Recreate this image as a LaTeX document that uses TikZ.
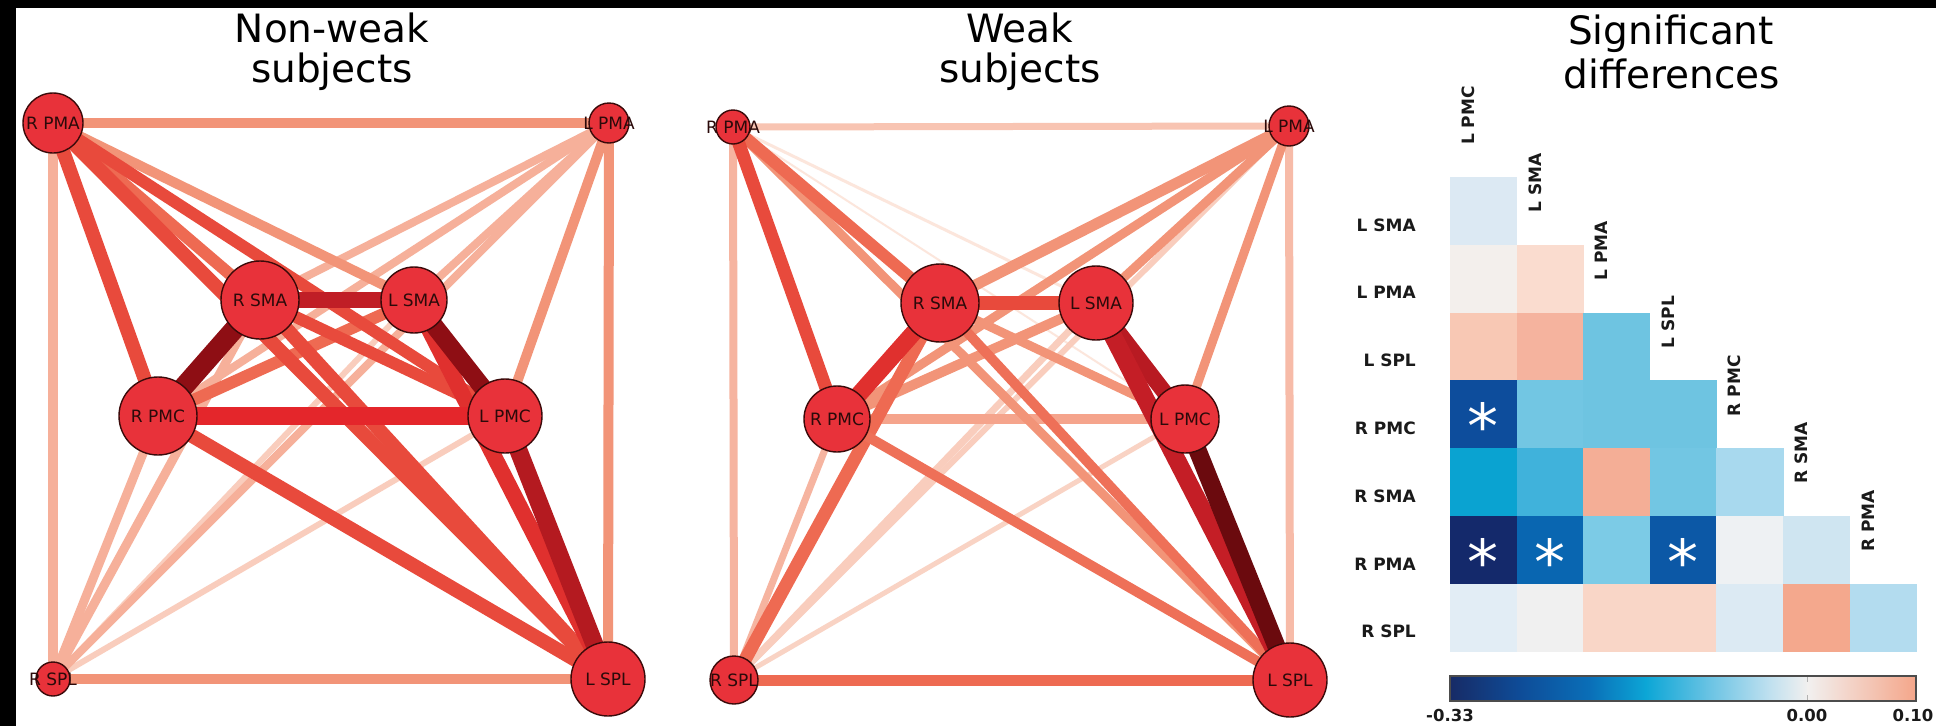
\documentclass[tikz,border=0pt]{standalone}
\usepackage{fontspec}
\setmainfont{DejaVu Sans}
\pgfdeclarelayer{bglayer}
\pgfdeclarelayer{edgelayer}
\pgfsetlayers{bglayer,edgelayer,main}
\definecolor{nodered}{HTML}{E8323A}
\definecolor{nodeedge}{HTML}{3A0A0A}
\definecolor{lbltext}{HTML}{2B0A0A}
\definecolor{hmtext}{HTML}{1A1A1A}
\newcommand\netnode[5]{\node[netnode, minimum size=#4pt, label={[nodelbl]center:#5}] (#1) at (#2,#3) {};}
\newcommand\nedge[4]{\definecolor{edgetmp}{HTML}{#3}\draw[edgetmp, line width=#4pt] (#1.center) -- (#2.center);}
\newcommand\hmcell[3]{\definecolor{celltmp}{HTML}{#3}\fill[celltmp] ({1450+#1*66.6},{177+#2*67.8}) rectangle ++(67.1,68.3);}
\newcommand\cbseg[4]{\definecolor{cbA}{HTML}{#3}\definecolor{cbB}{HTML}{#4}\shade[left color=cbA, right color=cbB] (#1,676) rectangle (#2,701);}
\begin{document}
\begin{tikzpicture}[x=1pt,y=-1pt,
  netnode/.style={circle, fill=nodered, draw=nodeedge, line width=1.4pt, inner sep=0pt},
  nodelbl/.style={text=lbltext, font=\fontsize{17}{20}\selectfont, inner sep=0pt},
  ttl/.style={font=\fontsize{39}{47}\selectfont, anchor=base, inner sep=0pt},
  hmlbl/.style={font=\bfseries\fontsize{17}{20}\selectfont, inner sep=0pt, text=hmtext},
  hmstar/.style={font=\fontsize{62}{62}\selectfont, text=white, inner sep=0pt, anchor=base},
  cblbl/.style={font=\bfseries\fontsize{16.5}{20}\selectfont, inner sep=0pt, anchor=base, text=hmtext}]
\begin{pgfonlayer}{bglayer}
\fill[white] (0,0) rectangle (1936,726);
\fill[black] (0,0) rectangle (1936,8);
\fill[black] (0,0) rectangle (16,726);
\end{pgfonlayer}
\useasboundingbox (0,0) rectangle (1936,726);

% titles
\node[ttl] (t1a) at (332,42) {Non-weak};
\node[ttl] (t1b) at (332,82) {subjects};
\node[ttl] (t2a) at (1020,42) {Weak};
\node[ttl] (t2b) at (1020,82) {subjects};
\node[ttl] (t3a) at (1671,44) {Significant};
\node[ttl] (t3b) at (1672,88) {differences};

% ---------- non-weak network ----------
\netnode{a-rpma}{53}{123}{60}{R PMA}
\netnode{a-lpma}{609}{123}{40}{L PMA}
\netnode{a-rsma}{260}{300}{78}{R SMA}
\netnode{a-lsma}{414}{300}{66}{L SMA}
\netnode{a-rpmc}{158}{416}{78}{R PMC}
\netnode{a-lpmc}{505}{416}{74}{L PMC}
\netnode{a-rspl}{53}{679}{34}{R SPL}
\netnode{a-lspl}{608}{679}{74}{L SPL}
\begin{pgfonlayer}{edgelayer}
\nedge{a-lsma}{a-rspl}{F9CDBD}{6}
\nedge{a-lpmc}{a-rspl}{F9CDBD}{6}
\nedge{a-rpma}{a-rspl}{F6B09A}{10}
\nedge{a-lpma}{a-rsma}{F6B09A}{8}
\nedge{a-lpma}{a-lsma}{F6B09A}{8}
\nedge{a-lpma}{a-rpmc}{F6B09A}{8}
\nedge{a-lpma}{a-rspl}{F6B09A}{8}
\nedge{a-rsma}{a-rspl}{F6B09A}{9}
\nedge{a-rpmc}{a-rspl}{F6B09A}{9}
\nedge{a-rpma}{a-lpma}{F29478}{10}
\nedge{a-lpma}{a-lspl}{F29478}{10}
\nedge{a-rspl}{a-lspl}{F29478}{10}
\nedge{a-rpma}{a-lsma}{F29478}{10}
\nedge{a-lpma}{a-lpmc}{F29478}{10}
\nedge{a-rpma}{a-rsma}{EE6A52}{12}
\nedge{a-lsma}{a-rpmc}{EE6A52}{12}
\nedge{a-rpma}{a-rpmc}{E84A3C}{14}
\nedge{a-rpma}{a-lpmc}{E84A3C}{12}
\nedge{a-rpma}{a-lspl}{E84A3C}{14}
\nedge{a-rsma}{a-lpmc}{E84A3C}{12}
\nedge{a-rsma}{a-lspl}{E84A3C}{14}
\nedge{a-rpmc}{a-lspl}{E84A3C}{14}
\nedge{a-lsma}{a-lspl}{E0302E}{16}
\nedge{a-rpmc}{a-lpmc}{E4262B}{18}
\nedge{a-rsma}{a-lsma}{C01E26}{16}
\nedge{a-lpmc}{a-lspl}{B41A20}{18}
\nedge{a-rsma}{a-rpmc}{8E0E14}{20}
\nedge{a-lsma}{a-lpmc}{8E0E14}{18}
\end{pgfonlayer}

% ---------- weak network ----------
\netnode{b-rpma}{733}{127}{34}{R PMA}
\netnode{b-lpma}{1289}{126}{40}{L PMA}
\netnode{b-rsma}{940}{303}{78}{R SMA}
\netnode{b-lsma}{1096}{303}{74}{L SMA}
\netnode{b-rpmc}{837}{419}{66}{R PMC}
\netnode{b-lpmc}{1185}{419}{68}{L PMC}
\netnode{b-rspl}{734}{680}{48}{R SPL}
\netnode{b-lspl}{1290}{680}{74}{L SPL}
\begin{pgfonlayer}{edgelayer}
\nedge{b-rpma}{b-lsma}{FCE6DC}{3}
\nedge{b-rpma}{b-lpmc}{FCE6DC}{2}
\nedge{b-rpma}{b-lpma}{F8C4B2}{7}
\nedge{b-lpma}{b-lspl}{F7BBA8}{8}
\nedge{b-lpma}{b-rspl}{F9CDBD}{6}
\nedge{b-lsma}{b-rspl}{F9CDBD}{7}
\nedge{b-lpmc}{b-rspl}{F9D3C4}{5}
\nedge{b-rpma}{b-rspl}{F6B4A0}{8}
\nedge{b-rpmc}{b-lpmc}{F5A48C}{10}
\nedge{b-rpmc}{b-rspl}{F6B4A0}{7}
\nedge{b-lpma}{b-rsma}{F29478}{11}
\nedge{b-lpma}{b-lsma}{F29478}{9}
\nedge{b-lpma}{b-rpmc}{F29478}{9}
\nedge{b-lpma}{b-lpmc}{F29478}{9}
\nedge{b-rsma}{b-lpmc}{F29478}{9}
\nedge{b-lsma}{b-rpmc}{F29478}{10}
\nedge{b-rpma}{b-lspl}{F29478}{9}
\nedge{b-rspl}{b-lspl}{EE6A52}{11}
\nedge{b-rpma}{b-rsma}{EE6A52}{12}
\nedge{b-rsma}{b-lspl}{EE7058}{10}
\nedge{b-rsma}{b-rspl}{EE6A52}{13}
\nedge{b-rpmc}{b-lspl}{EE7058}{10}
\nedge{b-rpma}{b-rpmc}{E84A3C}{13}
\nedge{b-rsma}{b-lsma}{E84A3C}{14}
\nedge{b-rsma}{b-rpmc}{E0302E}{17}
\nedge{b-lsma}{b-lpmc}{B81A22}{16}
\nedge{b-lsma}{b-lspl}{C41E26}{18}
\nedge{b-lpmc}{b-lspl}{6B0A0E}{18}
\end{pgfonlayer}

% ---------- heatmap ----------
\hmcell{0}{0}{DCE9F3}
\hmcell{0}{1}{F3EFEC}
\hmcell{1}{1}{FADCCF}
\hmcell{0}{2}{F8C8B4}
\hmcell{1}{2}{F5B39E}
\hmcell{2}{2}{6EC4E1}
\hmcell{0}{3}{0D4D9C}
\hmcell{1}{3}{72C6E3}
\hmcell{2}{3}{6EC4E1}
\hmcell{3}{3}{6EC4E1}
\hmcell{0}{4}{0AA3D1}
\hmcell{1}{4}{40B2DB}
\hmcell{2}{4}{F4AE96}
\hmcell{3}{4}{72C6E3}
\hmcell{4}{4}{A8D9EE}
\hmcell{0}{5}{14296B}
\hmcell{1}{5}{0966B1}
\hmcell{2}{5}{7CCBE6}
\hmcell{3}{5}{0C58A6}
\hmcell{4}{5}{EEF1F3}
\hmcell{5}{5}{CFE5F1}
\hmcell{0}{6}{E2EDF5}
\hmcell{1}{6}{F0F0F0}
\hmcell{2}{6}{F9D6C7}
\hmcell{3}{6}{F9D6C7}
\hmcell{4}{6}{DCEAF3}
\hmcell{5}{6}{F4A88D}
\hmcell{6}{6}{B3DCEF}

% asterisks
\node[hmstar] (s1) at (1483.3,448) {*};
\node[hmstar] (s2) at (1483.3,584) {*};
\node[hmstar] (s3) at (1549.9,584) {*};
\node[hmstar] (s4) at (1683.1,584) {*};

% row labels
\foreach \t [count=\r from 0] in {L SMA, L PMA, L SPL, R PMC, R SMA, R PMA, R SPL}
  \node[hmlbl, anchor=east] (row\r) at (1416,{177+(\r+0.5)*67.8+14}) {\t};
% column labels
\foreach \t [count=\j from 0] in {L PMC, L SMA, L PMA, L SPL, R PMC, R SMA, R PMA}
  \node[hmlbl, rotate=90, anchor=west] (col\j) at ({1468.3+66.6*\j},{145+67.8*\j}) {\t};

% colorbar
\cbseg{1450}{1520.4}{172B66}{0E4C98}
\cbseg{1519.9}{1590.3}{0E4C98}{0A6FB8}
\cbseg{1589.8}{1646.2}{0A6FB8}{0CA6D6}
\cbseg{1645.7}{1706.8}{0CA6D6}{66C2E3}
\cbseg{1706.3}{1767.4}{66C2E3}{BCDFEF}
\cbseg{1766.9}{1807.9}{BCDFEF}{F2F0EF}
\cbseg{1807.4}{1916}{F2F0EF}{F4A68A}
\draw[gray!60, line width=1pt] (1807.4,676) -- ++(0,6) (1807.4,701) -- ++(0,-6);
\draw[black!70, line width=1.5pt] (1450,676) rectangle (1916,701);
\node[cblbl] (cbmin) at (1450,721) {-0.33};
\node[cblbl] (cbzero) at (1807,721) {0.00};
\node[cblbl] (cbmax) at (1913,721) {0.10};
\end{tikzpicture}
\end{document}
